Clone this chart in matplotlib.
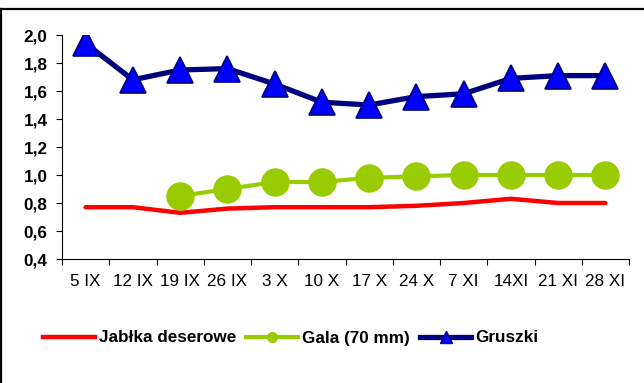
import numpy as np
import matplotlib.pyplot as plt
from matplotlib.lines import Line2D

plt.rcParams['font.family'] = ['Liberation Sans', 'DejaVu Sans']

dates = ['5 IX', '12 IX', '19 IX', '26 IX', '3 X', '10 X', '17 X',
         '24 X', '7 XI', '14XI', '21 XI', '28 XI']
jablka = [0.77, 0.77, 0.73, 0.76, 0.77, 0.77, 0.77, 0.78, 0.80, 0.83, 0.80, 0.80]
gala = [np.nan, np.nan, 0.85, 0.90, 0.95, 0.95, 0.98, 0.99, 1.00, 1.00, 1.00, 1.00]
gruszki = [1.94, 1.68, 1.75, 1.76, 1.65, 1.52, 1.50, 1.56, 1.58, 1.69, 1.71, 1.71]
yticks = [0.4, 0.6, 0.8, 1.0, 1.2, 1.4, 1.6, 1.8, 2.0]

RED = '#FF0000'
GREEN = '#99CC00'
NAVY = '#000080'
BLUE = '#0000FF'

fig = plt.figure(figsize=(6.44, 3.83), dpi=100)
ax = fig.add_axes([62 / 644, 1 - 259 / 383, (629 - 62) / 644, (259 - 35) / 383])

x = np.arange(len(dates))
ax.plot(x, jablka, color=RED, lw=3.2, solid_capstyle='round', zorder=2)
ax.plot(x, gala, color=GREEN, lw=3, marker='o', ms=19.5,
        mfc=GREEN, mec=GREEN, zorder=3)
ax.plot(x, gruszki, color=NAVY, lw=3.8, marker='^', ms=19,
        mfc=BLUE, mec=NAVY, mew=1.2, zorder=4)

ax.set_xlim(-0.5, len(dates) - 0.5)
ax.set_ylim(0.4, 2.0)
ax.set_yticks(yticks)
ax.set_yticklabels([f'{v:.1f}'.replace('.', ',') for v in yticks],
                   fontsize=12.3, fontweight='bold')

# ticks between categories, labels at categories
ax.set_xticks(np.arange(-0.5, len(dates), 1.0))
ax.set_xticklabels([])
ax.set_xticks(x, minor=True)
ax.set_xticklabels(dates, minor=True, fontsize=12.3)
ax.tick_params(axis='x', which='major', direction='out', length=4.3, width=0.8)
ax.tick_params(axis='x', which='minor', length=0, pad=11)
ax.tick_params(axis='y', direction='out', length=4.3, width=0.8, pad=6)

for s in ['top', 'right']:
    ax.spines[s].set_visible(False)
for s in ['left', 'bottom']:
    ax.spines[s].set_linewidth(0.8)

handles = [
    Line2D([], [], color=RED, lw=3.2),
    Line2D([], [], color=GREEN, lw=3, marker='o', ms=7, mfc=GREEN, mec=GREEN),
    Line2D([], [], color=NAVY, lw=3.8, marker='^', ms=8, mfc=BLUE, mec=NAVY),
]
labels = ['Jabłka deserowe', 'Gala (70 mm)', 'Gruszki']
fig.legend(handles, labels, loc='center', bbox_to_anchor=(291 / 644, 1 - 338 / 383),
           ncol=3, frameon=False, handlelength=3.0, handletextpad=0.25,
           columnspacing=0.6, prop={'size': 12.3, 'weight': 'bold'})

# outer chart frame (cropped)
fig.add_artist(Line2D([0, 1], [1 - 9 / 383, 1 - 9 / 383], color='black', lw=1.6,
                      transform=fig.transFigure))
fig.add_artist(Line2D([1 / 644, 1 / 644], [0, 1 - 9 / 383], color='black', lw=1.6,
                      transform=fig.transFigure))

fig.savefig('out.png', dpi=100)
